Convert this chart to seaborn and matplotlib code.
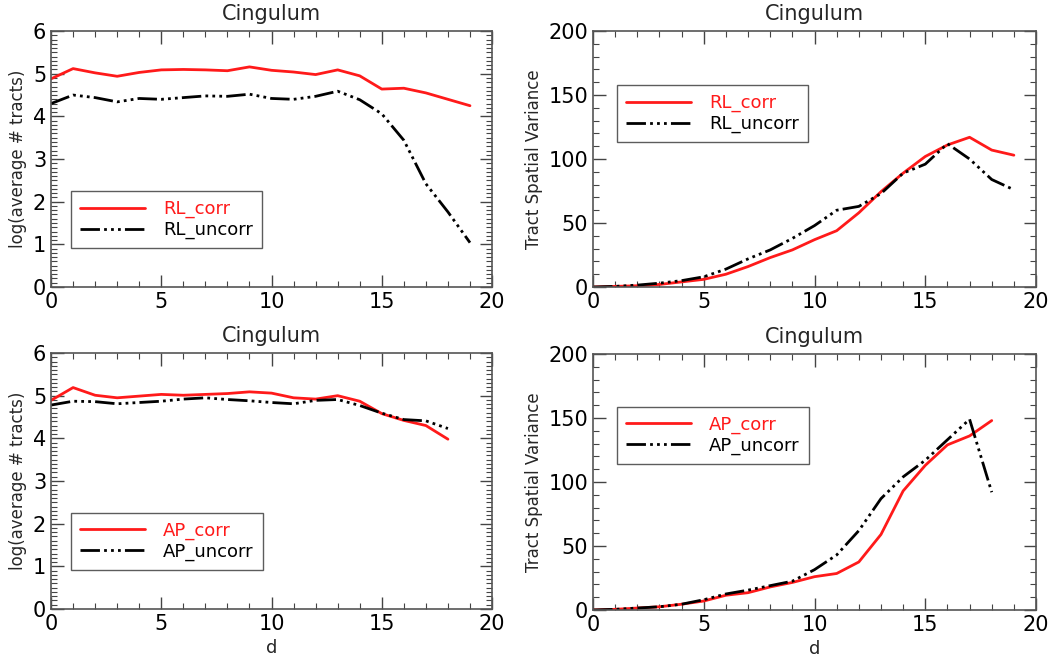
import matplotlib
matplotlib.use("Agg")
import matplotlib.pyplot as plt
import seaborn as sns
from matplotlib.ticker import MultipleLocator

# distance index
D_RL = list(range(20))
D_AP = list(range(19))

# log(average # tracts), RL direction
RL_CORR_LOG = [4.88, 5.12, 5.02, 4.94, 5.03, 5.09, 5.10, 5.09, 5.07, 5.16,
               5.08, 5.04, 4.98, 5.09, 4.95, 4.64, 4.66, 4.55, 4.40, 4.25]
RL_UNCORR_LOG = [4.30, 4.50, 4.44, 4.34, 4.42, 4.40, 4.44, 4.48, 4.47, 4.52,
                 4.42, 4.40, 4.47, 4.59, 4.39, 4.06, 3.44, 2.42, 1.76, 1.04]

# tract spatial variance, RL direction
RL_CORR_VAR = [0, 0.5, 1, 2, 4, 6, 10, 16, 23, 29,
               37, 44, 58, 74.5, 89, 102, 111, 117, 107, 103]
RL_UNCORR_VAR = [0, 0.5, 1.5, 3, 5, 8, 14, 22, 29, 38,
                 48, 60, 63, 73, 89, 96, 112, 100, 84, 76]

# log(average # tracts), AP direction
AP_CORR_LOG = [4.89, 5.19, 5.01, 4.95, 4.99, 5.03, 5.01, 5.03, 5.05, 5.09,
               5.06, 4.95, 4.92, 5.00, 4.87, 4.58, 4.42, 4.30, 3.98]
AP_UNCORR_LOG = [4.78, 4.87, 4.86, 4.81, 4.84, 4.87, 4.92, 4.95, 4.91, 4.88,
                 4.84, 4.81, 4.89, 4.91, 4.77, 4.59, 4.44, 4.41, 4.23]

# tract spatial variance, AP direction
AP_CORR_VAR = [0, 0.5, 1.5, 2.5, 4.5, 7, 11.5, 13.5, 18, 21.5,
               26, 28.5, 37.5, 59, 93, 113, 129, 136, 148]
AP_UNCORR_VAR = [0, 0.5, 1.5, 2.5, 4.5, 8, 12.5, 15.5, 19, 22.5,
                 31.5, 43, 62, 87, 104, 117, 133, 149, 92]

sns.set_style("ticks")
plt.rcParams["font.family"] = ["DejaVu Sans"]

RED = "#ff1a1a"
DASH = (7, 1.5, 1, 1.5, 1, 1.5, 1, 1.5)


def style_axis(ax, ymax, ymajor, yminor, show_d):
    """Set IDL-like axis look: ticks inside on all sides."""
    ax.set_xlim(0, 20)
    ax.set_ylim(0, ymax)
    ax.xaxis.set_major_locator(MultipleLocator(5))
    ax.xaxis.set_minor_locator(MultipleLocator(1))
    ax.yaxis.set_major_locator(MultipleLocator(ymajor))
    ax.yaxis.set_minor_locator(MultipleLocator(yminor))
    ax.tick_params(which="both", direction="in", top=True, right=True,
                   labelsize=15, colors="#444444", labelcolor="black")
    ax.tick_params(which="major", length=9, width=1)
    ax.tick_params(which="minor", length=4, width=0.8)
    for sp in ax.spines.values():
        sp.set_color("#555555")
        sp.set_linewidth(1.2)
    ax.set_title("Cingulum", fontsize=15, pad=8)
    ax.set_xlabel("d" if show_d else "", fontsize=13)


def draw_panel(ax, x, corr, uncorr, names, legend_pos, ymax, ymajor,
               yminor, ylabel, show_d):
    sns.lineplot(x=x, y=corr, ax=ax, color=RED, linewidth=2, label=names[0])
    sns.lineplot(x=x, y=uncorr, ax=ax, color="black", linewidth=2,
                 dashes=False, label=names[1])
    ax.lines[1].set_dashes(DASH)
    style_axis(ax, ymax, ymajor, yminor, show_d)
    ax.set_ylabel(ylabel, fontsize=12)
    leg = ax.legend(loc="lower left", bbox_to_anchor=legend_pos,
                    frameon=True, fancybox=False, fontsize=13,
                    handlelength=3.6, handletextpad=1.0, borderaxespad=0,
                    borderpad=0.5, labelspacing=0.15)
    leg.get_frame().set_edgecolor("#333333")
    leg.get_frame().set_linewidth(1)
    leg.get_texts()[0].set_color(RED)
    leg.get_texts()[1].set_color("black")


fig = plt.figure(figsize=(10.5, 6.58), dpi=100)

ax1 = fig.add_axes([0.0486, 0.5638, 0.42, 0.389])
ax2 = fig.add_axes([0.5648, 0.5638, 0.4219, 0.389])
ax3 = fig.add_axes([0.0486, 0.0745, 0.42, 0.389])
ax4 = fig.add_axes([0.5648, 0.073, 0.4219, 0.389])

draw_panel(ax1, D_RL, RL_CORR_LOG, RL_UNCORR_LOG, ["RL_corr", "RL_uncorr"],
           (0.045, 0.152), 6, 1, 0.1, "log(average # tracts)", False)
draw_panel(ax2, D_RL, RL_CORR_VAR, RL_UNCORR_VAR, ["RL_corr", "RL_uncorr"],
           (0.054, 0.566), 200, 50, 10, "Tract Spatial Variance", False)
draw_panel(ax3, D_AP, AP_CORR_LOG, AP_UNCORR_LOG, ["AP_corr", "AP_uncorr"],
           (0.045, 0.152), 6, 1, 0.1, "log(average # tracts)", True)
draw_panel(ax4, D_AP, AP_CORR_VAR, AP_UNCORR_VAR, ["AP_corr", "AP_uncorr"],
           (0.054, 0.57), 200, 50, 10, "Tract Spatial Variance", True)

fig.savefig("out.png", dpi=100)
